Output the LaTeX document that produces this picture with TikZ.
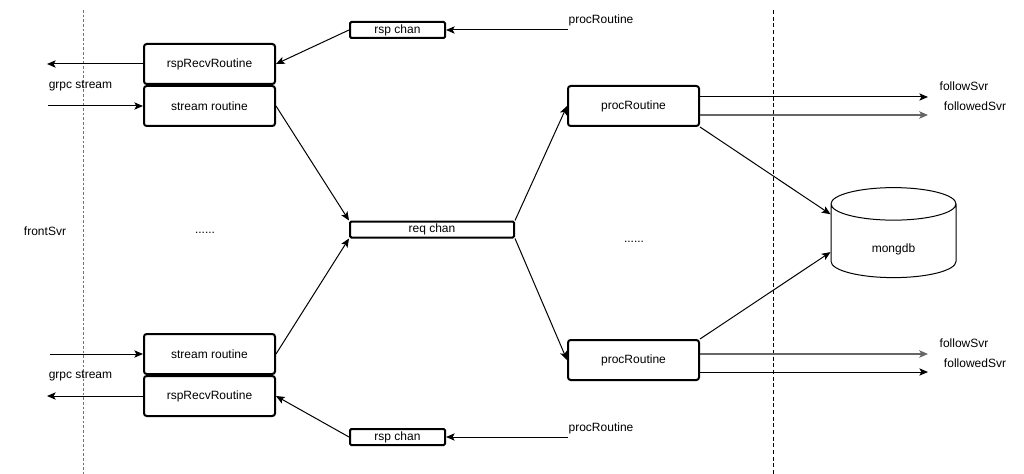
\documentclass[tikz,border=0pt]{standalone}
\usepackage{fontspec}
\setmainfont{Liberation Sans}
\usetikzlibrary{arrows.meta,shapes.geometric}

\tikzset{every picture/.style={line width=0.75pt}}
\tikzset{
  routine/.style={draw, line width=1.5pt, rounded corners=2pt, inner sep=0pt, minimum width=98.25pt, minimum height=30pt},
  chanbox/.style={draw, line width=1.5pt, rounded corners=1pt, inner sep=0pt, minimum height=12pt},
  dbcyl/.style={draw, cylinder, shape border rotate=90, aspect=0.75, inner sep=0pt, minimum width=93.75pt, minimum height=67.5pt, text height=17.1pt, text depth=0pt},
  arr/.style={-{Stealth[length=6.5pt,width=5.5pt,inset=1.5pt]}},
  greyarr/.style={arr, draw=black!60, line width=1.1pt}
}

\begin{document}
\begin{tikzpicture}[x=0.75pt,y=0.75pt,yscale=-1,font=\fontsize{9}{11}\selectfont]
  \useasboundingbox (0,0) rectangle (1024,474);

  %separators
  \draw [black!55, dash pattern=on 2pt off 1.5pt] (83,10) -- (83,474) ;
  \draw [dash pattern=on 3pt off 2pt] (773,10) -- (773,474) ;

  \node [routine] (rsprecvA) at (209.5,64) {rspRecvRoutine};
  \node [routine] (streamA) at (209.5,106) {stream routine};
  \node [routine] (streamB) at (209.5,354) {stream routine};
  \node [routine] (rsprecvB) at (209.5,396) {rspRecvRoutine};

  \node [chanbox, minimum width=71.25pt] (rspchanA) at (397.5,30) {rsp chan};
  \node [chanbox, minimum width=71.25pt] (rspchanB) at (397.5,437) {rsp chan};
  \node [chanbox, minimum width=123pt] (reqchan) at (432,229.5) {req chan};

  \node [routine] (procA) at (633.5,106) {procRoutine};
  \node [routine] (procB) at (633.5,360) {procRoutine};

  \node [dbcyl] (mongdb) at (893.5,241) {mongdb};

  \node (frontsvr) at (45,231) {frontSvr};
  \node (grpcA) at (80.5,86) {grpc stream};
  \node (grpcB) at (80.5,376) {grpc stream};
  \node (dotsL) at (205,233) {......};
  \node (dotsR) at (634,242) {......};
  \node (procTxtA) at (601,20) {procRoutine};
  \node (procTxtB) at (601,428) {procRoutine};
  \node (followA) at (964,86) {followSvr};
  \node (followedA) at (975,106) {followedSvr};
  \node (followB) at (964,343) {followSvr};
  \node (followedB) at (975,363) {followedSvr};

  \coordinate (outA) at (47,64);
  \coordinate (inA) at (48,106);
  \coordinate (inB) at (50,354);
  \coordinate (outB) at (47,396);
  \coordinate (procinA) at (568,30);
  \coordinate (procinB) at (568,437);
  \coordinate (fsA) at (928,97);
  \coordinate (fdA) at (928,115);
  \coordinate (fsB) at (928,354);
  \coordinate (fdB) at (928,372);

  \draw [arr] (rsprecvA.west) -- (outA) ;
  \draw [arr] (inA) -- (streamA.west) ;
  \draw [arr] (inB) -- (streamB.west) ;
  \draw [arr] (rsprecvB.west) -- (outB) ;

  \draw [arr] (procinA) -- (rspchanA.east) ;
  \draw [arr] (procinB) -- (rspchanB.east) ;
  \draw [arr] (rspchanA.west) -- (rsprecvA.east) ;
  \draw [arr] (rspchanB.west) -- (rsprecvB.east) ;

  \draw [arr] (streamA.east) -- (reqchan.north west) ;
  \draw [arr] (streamB.east) -- (reqchan.south west) ;
  \draw [arr] (reqchan.north east) -- (procA.west) ;
  \draw [arr] (reqchan.south east) -- (procB.west) ;

  \draw [arr] (procA.east |- fsA) -- (fsA) ;
  \draw [greyarr] (procA.east |- fdA) -- (fdA) ;
  \draw [greyarr] (procB.east |- fsB) -- (fsB) ;
  \draw [arr] (procB.east |- fdB) -- (fdB) ;

  \draw [arr] (procA.south east) -- (mongdb.157) ;
  \draw [arr] (procB.north east) -- (mongdb.190) ;

\end{tikzpicture}
\end{document}
